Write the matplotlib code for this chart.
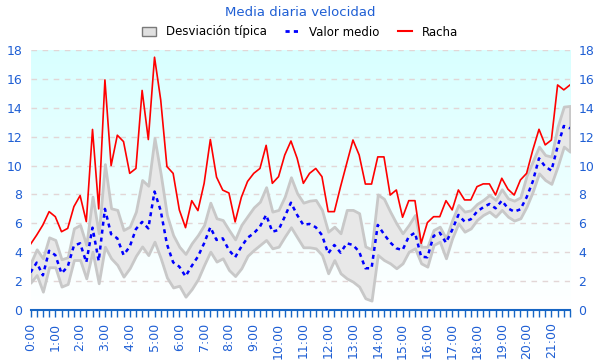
import matplotlib
matplotlib.use("Agg")
import matplotlib.pyplot as plt
import numpy as np
from matplotlib.colors import LinearSegmentedColormap
from matplotlib.patches import Patch
from matplotlib.lines import Line2D

# Datos: una muestra cada 15 minutos, de 0:00 a 21:45
racha = [4.55, 5.19, 5.89, 6.81, 6.46, 5.42, 5.65, 7.16, 7.92, 6.12,
         12.5, 7.0, 15.93, 10.0, 12.1, 11.66, 9.46, 9.8, 15.2, 11.8,
         17.5, 14.54, 9.93, 9.46, 6.93, 5.7, 7.57, 6.88, 8.77, 11.8,
         9.2, 8.3, 8.1, 6.1, 7.8, 8.9, 9.46, 9.8, 11.4, 8.77,
         9.23, 10.73, 11.7, 10.5, 8.77, 9.46, 9.8, 9.23, 6.81, 6.81,
         8.54, 10.16, 11.77, 10.73, 8.72, 8.72, 10.6, 10.6, 7.96, 8.31,
         6.42, 7.57, 7.57, 4.62, 6.05, 6.46, 6.46, 7.57, 6.93, 8.31,
         7.62, 7.62, 8.54, 8.73, 8.73, 7.96, 9.12, 8.36, 7.96, 9.0,
         9.46, 11.08, 12.51, 11.43, 11.77, 15.58, 15.24, 15.58]

valor_medio = [2.6, 3.28, 2.4, 4.1, 3.8, 2.54, 3.0, 4.45, 4.62, 3.3,
               5.7, 3.4, 7.0, 5.25, 4.96, 3.81, 4.38, 5.6, 6.1, 5.65,
               8.2, 6.87, 4.56, 3.3, 3.0, 2.33, 3.05, 3.7, 4.62, 5.73,
               4.85, 4.96, 4.15, 3.65, 4.38, 5.0, 5.31, 5.77, 6.58, 5.42,
               5.54, 6.46, 7.43, 6.58, 5.89, 5.96, 5.73, 5.19, 3.92, 4.5,
               3.97, 4.62, 4.5, 4.04, 2.89, 2.89, 5.89, 5.25, 4.68, 4.27,
               4.15, 5.08, 5.35, 3.69, 3.65, 5.12, 5.35, 4.66, 5.54, 6.58,
               6.12, 6.28, 6.81, 7.11, 7.34, 7.04, 7.57, 7.04, 6.81, 6.97,
               7.8, 8.9, 10.5, 9.93, 9.65, 11.31, 12.74, 12.58]

desv_sup = [3.23, 4.2, 3.58, 5.03, 4.85, 3.51, 3.65, 5.65, 5.89, 4.5,
            7.85, 5.31, 10.1, 7.04, 6.93, 5.54, 5.77, 6.81, 9.0, 8.6,
            11.9, 9.4, 6.58, 5.19, 4.38, 3.88, 4.62, 5.19, 5.89, 7.43,
            6.35, 6.23, 5.54, 4.89, 5.89, 6.5, 7.1, 7.5, 8.5, 6.81,
            6.93, 7.85, 9.19, 8.08, 7.43, 7.57, 7.62, 6.93, 5.42, 5.77,
            5.31, 6.93, 6.93, 6.7, 4.4, 4.2, 8.0, 7.7, 6.81, 6.0,
            5.31, 5.89, 6.58, 4.38, 4.38, 5.54, 5.77, 4.96, 6.23, 7.27,
            6.81, 6.9, 7.34, 7.62, 7.96, 7.62, 8.36, 7.73, 7.57, 7.8,
            9.3, 10.3, 11.31, 10.73, 10.62, 12.7, 14.08, 14.13]

desv_inf = [1.89, 2.42, 1.27, 2.96, 2.96, 1.62, 1.8, 3.46, 3.46, 2.19,
            4.04, 1.85, 4.38, 3.58, 3.12, 2.31, 2.9, 3.75, 4.4, 3.8,
            4.73, 3.58, 2.25, 1.56, 1.68, 0.92, 1.45, 2.13, 3.12, 4.04,
            3.35, 3.58, 2.77, 2.35, 2.89, 3.75, 4.15, 4.5, 4.85, 4.27,
            4.38, 5.08, 5.73, 5.03, 4.34, 4.34, 4.27, 3.81, 2.54, 3.46,
            2.54, 2.19, 1.96, 1.62, 0.81, 0.65, 3.81, 3.46, 3.23, 2.89,
            3.23, 4.04, 4.27, 3.23, 3.0, 4.5, 4.73, 3.58, 4.96, 6.0,
            5.42, 5.65, 6.23, 6.58, 6.81, 6.46, 6.93, 6.46, 6.19, 6.35,
            7.16, 8.2, 9.46, 9.0, 8.73, 9.93, 11.31, 10.96]

horas = ["0:00", "1:00", "2:00", "3:00", "4:00", "5:00", "6:00", "7:00",
         "8:00", "9:00", "10:00", "11:00", "12:00", "13:00", "14:00", "15:00",
         "16:00", "17:00", "18:00", "19:00", "20:00", "21:00"]

azul_texto = "#1f5fd4"
n = len(racha)
x = np.arange(n)

plt.rcParams['font.family'] = ['DejaVu Sans']

fig = plt.figure(figsize=(6, 3.6), dpi=100)
ax = fig.add_axes([30.5 / 600, 50 / 360, (570 - 30.5) / 600, 260 / 360])

# Fondo degradado cian -> blanco
cmap_fondo = LinearSegmentedColormap.from_list("fondo", ["#ffffff", "#d8ffff"])
grad = np.linspace(0, 1, 256).reshape(-1, 1)
ax.imshow(grad, extent=[0, n - 1, 0, 18], origin="lower", aspect="auto",
          cmap=cmap_fondo, zorder=0)

# Rejilla
for yv in range(2, 19, 2):
    ax.axhline(yv, color="#e2d6d6", lw=1, ls=(0, (4, 4)), zorder=1)

ax.fill_between(x, desv_inf, desv_sup, facecolor="#e8e8e8", edgecolor="#c8c8c8",
                lw=2, zorder=2)
ax.plot(x, valor_medio, color="#0000ff", lw=1.8, ls=(0, (1.6, 1.6)), zorder=4)
ax.plot(x, racha, color="#ff0000", lw=1.2, zorder=3)

ax.set_xlim(0, n - 1)
ax.set_ylim(0, 18)
ax.set_yticks(range(0, 19, 2))
ax.set_xticks(x, minor=True)
ax.set_xticks(np.arange(0, n, 4))
ax.set_xticklabels(horas, rotation=90)

for s in ["top", "left", "right"]:
    ax.spines[s].set_visible(False)
ax.spines["bottom"].set_color("#1766c4")
ax.spines["bottom"].set_linewidth(1.5)

ax.tick_params(axis="y", length=0, labelsize=9, labelcolor=azul_texto,
               labelright=True, pad=6)
ax.tick_params(axis="x", which="both", length=5, width=1, color="#1766c4",
               labelsize=9, labelcolor=azul_texto, pad=4)

fig.text(0.5, 1 - 12 / 360, "Media diaria velocidad", ha="center", va="center",
         color=azul_texto, fontsize=9.5)

handles = [Patch(facecolor="#e0e0e0", edgecolor="#7a7a7a", lw=1),
           Line2D([], [], color="#0000ff", lw=2, ls=(0, (1.5, 1.5))),
           Line2D([], [], color="#ff0000", lw=1.5)]
fig.legend(handles, ["Desviación típica", "Valor medio", "Racha"], ncol=3,
           loc="center", bbox_to_anchor=(0.5, 1 - 32 / 360), frameon=False,
           fontsize=8.5, handlelength=1.2, handleheight=0.8, columnspacing=1.6,
           handletextpad=0.8)

fig.savefig("out.png", dpi=100)
